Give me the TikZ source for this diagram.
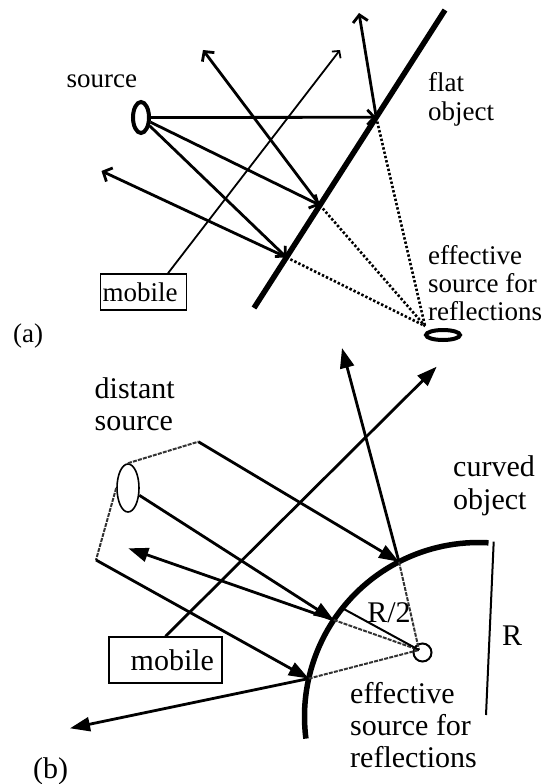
\documentclass[tikz,border=0pt]{standalone}
\usepackage{fontspec}
\setmainfont{Liberation Serif}
\usetikzlibrary{positioning,calc,arrows.meta,shapes.geometric}

\begin{document}
\begin{tikzpicture}[x=1pt, y=-1pt,
    every node/.style={font=\fontsize{27}{29}\selectfont, inner sep=0pt},
    big/.style={font=\fontsize{30}{32}\selectfont},
    wall/.style={line width=5.5pt},
    ray/.style={line width=2.8pt, -{Straight Barb[length=7pt,width=15pt]}},
    slimray/.style={line width=1.8pt, -{Straight Barb[length=5pt,width=11pt]}},
    rayB/.style={line width=2.8pt, -{Triangle[length=20pt,width=14pt]}},
    slim/.style={line width=2pt},
    echo/.style={line width=2.6pt, draw=black, dash pattern=on 2.4pt off 2pt},
    ghost/.style={line width=2pt, draw=black!80, dash pattern=on 4pt off 1.2pt},
    emitter/.style={draw, ellipse, line width=4pt},
    tag/.style={draw, line width=1.5pt, align=left},
  ]
  \useasboundingbox (0,0) rectangle (549,784);

  % (a) the flat object and the three reflection points on it
  \coordinate (wallT) at (445,10);
  \coordinate (wallB) at (254,308);
  \draw[wall] (wallT) -- (wallB);
  \coordinate (P1) at ($(wallT)!0.36!(wallB)$);
  \coordinate (P2) at ($(wallT)!0.655!(wallB)$);
  \coordinate (P3) at ($(wallT)!0.83!(wallB)$);

  % source, mobile and effective source
  \node[emitter, minimum width=16pt, minimum height=31pt] (src) at (141,117.5) {};
  \node[anchor=base west] (srcL) at (66.5,88) {source};
  \node[tag, text width=82pt, minimum height=36pt, inner xsep=2pt] (mobA) at (143.5,292) {mobile};
  \node[emitter, minimum width=34pt, minimum height=10pt] (effA) at (443,335) {};
  \coordinate (imgA) at (425,326);

  % rays towards the object and their reflections
  \draw[ray] (src) -- (P1);
  \draw[ray] (src) -- (P2);
  \draw[ray] (src) -- (P3);
  \coordinate (up1) at (359,13);
  \coordinate (up2) at (203,50);
  \coordinate (up3) at (101.5,171);
  \draw[ray] (P1) -- (up1);
  \draw[ray] (P2) -- (up2);
  \draw[ray] (P3) -- (up3);
  \coordinate (tipA) at (340,50);
  \draw[slimray] ([xshift=24.5pt]mobA.north) -- (tipA);

  % reflections traced back to the effective source
  \draw[echo] (P1) -- (imgA);
  \draw[echo] (P2) -- (imgA);
  \draw[echo] (P3) -- (imgA);

  \node[anchor=north west, align=left] (flatL) at (428,72) {flat\\object};
  \node[anchor=north west, align=left, font=\fontsize{27}{28}\selectfont] (effAL) at (428,245)
        {effective\\source for\\reflections};
  \node[anchor=base west] (capA) at (13,342) {(a)};

  % (b) the curved object, radius R
  \coordinate (ctr) at (478.5,716.5);
  \draw[wall] ($(ctr)+(-86.7:174)$) arc[start angle=-86.7, end angle=-187.3, radius=174];
  \coordinate (Q1) at ($(ctr)+(-117.2:174)$);
  \coordinate (Q2) at ($(ctr)+(-146.3:174)$);
  \coordinate (Q3) at ($(ctr)+(-167.4:174)$);
  \coordinate (H) at ($(ctr)+(-141.5:174)$);
  \coordinate (Rt) at (493.7,541.7);
  \coordinate (Rb) at (486,715);
  \draw[slim] (Rt) -- (Rb);

  % distant source with its beam edges
  \node[draw, ellipse, line width=1.6pt, minimum width=22pt, minimum height=48pt] (dist) at (128,488) {};
  \coordinate (bk1) at (198.3,441.7);
  \coordinate (bk2) at (96,560);
  \draw[ghost] (dist.north) -- (bk1);
  \draw[ghost] (dist.west) -- (bk2);

  % effective source at R/2 and the mobile
  \node[draw, circle, line width=2pt, minimum size=18pt] (focB) at (422.5,652.5) {};
  \coordinate (foc) at (419,650);
  \node[tag, big, text width=97pt, align=right, minimum height=46pt, inner xsep=8pt] (mobB) at (165.5,660) {mobile};

  % incoming rays and reflections
  \draw[rayB] (bk1) -- (Q1);
  \draw[rayB] (dist) -- (Q2);
  \draw[rayB] (bk2) -- (Q3);
  \coordinate (out1) at (342,348);
  \coordinate (out2) at (128.3,548.3);
  \coordinate (out3) at (70,728.3);
  \coordinate (out4) at (436.7,366.7);
  \draw[rayB] (Q1) -- (out1);
  \draw[rayB] (Q2) -- (out2);
  \draw[rayB] (Q3) -- (out3);
  \draw[rayB] (mobB.north) -- (out4);

  \draw[ghost] (Q1) -- (foc);
  \draw[ghost] (Q2) -- (foc);
  \draw[ghost] (Q3) -- (foc);
  \draw[slim] (H) -- (foc);

  \node[big, anchor=north west, align=left] (distL) at (94.5,377) {distant\\source};
  \node[big, anchor=north west, align=left, font=\fontsize{30}{33}\selectfont] (curvL) at (453,455) {curved\\object};
  \node[big] (halfL) at (389,613) {R/2};
  \node[big] (radL) at (512,636) {R};
  \node[big, anchor=north west, align=left] (effBL) at (350,682) {effective\\source for\\reflections};
  \node[big, anchor=base west] (capB) at (33,778) {(b)};
\end{tikzpicture}
\end{document}
